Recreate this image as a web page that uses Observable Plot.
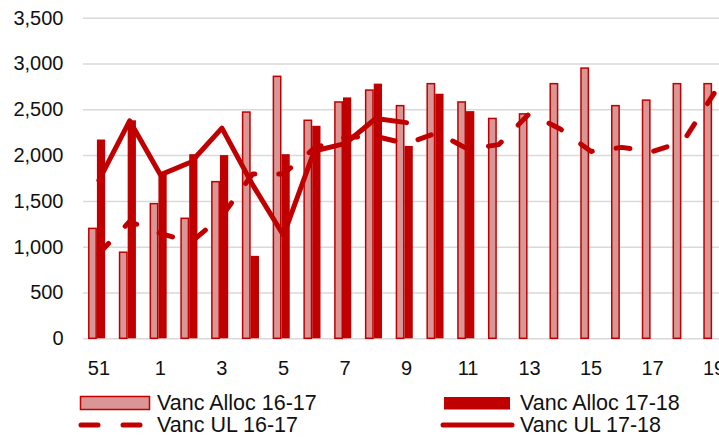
<!DOCTYPE html>
<html><head><meta charset="utf-8">
<script src="https://cdn.jsdelivr.net/npm/d3@7"></script>
<script src="https://cdn.jsdelivr.net/npm/@observablehq/plot@0.6"></script>
<style>
html,body{margin:0;padding:0;background:#fff;overflow:hidden;}
#wrap{position:relative;width:719px;height:437px;overflow:hidden;font-family:"Liberation Sans",Arial,sans-serif;}
#chart{position:absolute;left:0;top:0;width:730px;}
#chart svg{max-width:none !important;}
.leg{position:absolute;font-size:21.5px;line-height:20px;color:#111;white-space:nowrap;}
.sw{position:absolute;}
</style></head><body>
<div id="wrap"><div id="chart"></div><div id="legend"></div></div>
<script>
// Categories (weeks)
const weeks = ["51","52","1","2","3","4","5","6","7","8","9","10","11","12","13","14","15","16","17","18","19"];
const xTickLabels = ["51","1","3","5","7","9","11","13","15","17","19"];
const yTicks = [0,500,1000,1500,2000,2500,3000,3500];

// Series
const allocA = [1200, 940, 1470, 1310, 1710, 2470, 2860, 2380, 2580, 2710, 2540, 2780, 2580, 2400, 2450, 2780, 2950, 2540, 2600, 2780, 2780]; // Vanc Alloc 16-17
const allocB = [2170, 2380, 1790, 2010, 2000, 900, 2010, 2320, 2630, 2780, 2100, 2670, 2480]; // Vanc Alloc 17-18 (51..11)
const ulA = [930, 1280, 1150, 1055, 1340, 1800, 1800, 2080, 2200, 2210, 2130, 2250, 2070, 2120, 2460, 2290, 2045, 2090, 2045, 2155, 2680]; // Vanc UL 16-17
const ulB = [1730, 2380, 1790, 1930, 2300, 1680, 1130, 2050, 2130, 2405, 2360]; // Vanc UL 17-18 (51..9)

const seriesNames = ["Vanc Alloc 16-17","Vanc Alloc 17-18","Vanc UL 16-17","Vanc UL 17-18"];

const toRows = (arr) => arr.map((v,i) => ({week: weeks[i], value: v}));
const dAllocA = toRows(allocA), dAllocB = toRows(allocB), dUlA = toRows(ulA), dUlB = toRows(ulB);

const RED = "#C00000", PINK = "#D99694", GRID = "#d9d9d9";
const FONT = '"Liberation Sans", Arial, sans-serif';

const plot = Plot.plot({
  width: 730, height: 385,
  marginLeft: 83, marginRight: 1, marginTop: 17.7, marginBottom: 46.7,
  style: {fontFamily: FONT, fontSize: "20px", color: "#111", background: "#fff", maxWidth: "none"},
  x: {type: "band", domain: weeks, padding: 0, round: false, axis: null},
  y: {domain: [0, 3500], axis: null},
  marks: [
    Plot.ruleY(yTicks, {stroke: GRID, strokeWidth: 1.5}),
    Plot.barY(dAllocA, {x: "week", y: "value", fill: PINK, stroke: RED, strokeWidth: 1.5, insetLeft: 5.8, insetRight: 17.6}),
    Plot.barY(dAllocB, {x: "week", y: "value", fill: RED, insetLeft: 13.9, insetRight: 8.6}),
    Plot.line(dUlA, {x: "week", y: "value", stroke: RED, strokeWidth: 5, strokeDasharray: "14,24", strokeLinecap: "round", strokeLinejoin: "round"}),
    Plot.line(dUlB, {x: "week", y: "value", stroke: RED, strokeWidth: 5, strokeLinecap: "round", strokeLinejoin: "round"}),
    Plot.axisX(xTickLabels, {tickSize: 0, tickPadding: 21.6, label: null, fontSize: 20}),
    Plot.axisY(yTicks, {tickSize: 0, tickPadding: 20, label: null, tickFormat: d3.format(","), fontSize: 20})
  ]
});
document.getElementById("chart").appendChild(plot);

// Legend below the SVG
const leg = document.getElementById("legend");
const ns = "http://www.w3.org/2000/svg";
function swatch(left, top, w, h, inner) {
  const s = document.createElementNS(ns, "svg");
  s.setAttribute("width", w); s.setAttribute("height", h);
  s.setAttribute("class", "sw");
  s.style.left = left + "px"; s.style.top = top + "px";
  s.innerHTML = inner;
  leg.appendChild(s);
}
function label(left, centerY, text) {
  const d = document.createElement("div");
  d.className = "leg";
  d.style.left = left + "px"; d.style.top = (centerY - 10.5) + "px";
  d.textContent = text;
  leg.appendChild(d);
}
swatch(79, 395, 72, 16, `<rect x="1.5" y="1.5" width="69" height="13" fill="${PINK}" stroke="${RED}" stroke-width="1.5"/>`);
label(157, 403, seriesNames[0]);
swatch(444, 397, 67, 13, `<rect x="0" y="0" width="66" height="12.5" fill="${RED}"/>`);
label(520, 403, seriesNames[1]);
swatch(76, 418, 72, 14, `<line x1="5" y1="7" x2="66" y2="7" stroke="${RED}" stroke-width="5" stroke-linecap="round" stroke-dasharray="17,25"/>`);
label(157, 425, seriesNames[2]);
swatch(438, 418, 80, 14, `<line x1="5" y1="7" x2="74" y2="7" stroke="${RED}" stroke-width="5" stroke-linecap="round"/>`);
label(520, 425, seriesNames[3]);
</script>
</body></html>
